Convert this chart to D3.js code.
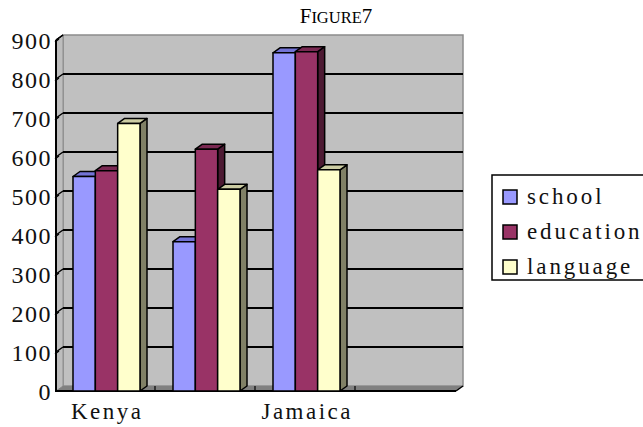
<!DOCTYPE html>
<html>
<head>
<meta charset="utf-8">
<script src="https://cdn.jsdelivr.net/npm/d3@7"></script>
<style>
  html, body { margin: 0; padding: 0; background: #fff; overflow: hidden; }
  svg { display: block; }
</style>
</head>
<body>
<svg id="chart" width="643" height="427"></svg>
<script>
// Category slots along the floor (only some slots carry a visible label)
const categoryLabels = ["Kenya", "", "Jamaica", ""];
// Series names, in drawing / legend order
const seriesNames = ["school", "education", "language"];
// Values per category slot (null = empty slot)
const school    = [550, 383, 867, null];
const education = [565, 620, 870, null];
const language  = [686, 517, 567, null];
// Value-axis ticks
const yTicks = [0, 100, 200, 300, 400, 500, 600, 700, 800, 900];

const seriesValues = [school, education, language];
const faceColors = [
  { front: "#9999FF", top: "#7373D6", side: "#4D4D80" },
  { front: "#993366", top: "#7A2952", side: "#4D1A33" },
  { front: "#FFFFCC", top: "#CCCCA3", side: "#808066" }
];

const svg = d3.select("#chart");

// 3D depth offset of the back wall relative to the front plane
const DX = 7, DY = -5;

const x = d3.scaleBand()
  .domain(d3.range(categoryLabels.length))
  .range([56, 456])
  .paddingInner(0).paddingOuter(0);

const xInner = d3.scaleBand()
  .domain(d3.range(seriesNames.length))
  .range([17, 84]);

const y = d3.scaleLinear().domain([0, 900]).range([391, 40]);

const [x0, x1] = x.range();
const yTop = y(900), yBot = y(0);

const SERIF = "'Liberation Serif', 'Times New Roman', serif";
const LABEL_SIZE = 23, LABEL_SPACING = 2.5;

// Back wall
svg.append("rect")
  .attr("x", x0 + DX).attr("y", yTop + DY)
  .attr("width", x1 - x0).attr("height", yBot - yTop)
  .attr("fill", "#C0C0C0")
  .attr("stroke", "#8C8C8C").attr("stroke-width", 1.5);

// Left side wall
svg.append("polygon")
  .attr("points", [[x0, yTop], [x0 + DX, yTop + DY], [x0 + DX, yBot + DY], [x0, yBot]].join(" "))
  .attr("fill", "#BDBDBD").attr("stroke", "#8C8C8C").attr("stroke-width", 1);

// Floor
svg.append("polygon")
  .attr("points", [[x0, yBot], [x0 + DX, yBot + DY], [x1 + DX, yBot + DY], [x1, yBot]].join(" "))
  .attr("fill", "#808080");

// Gridlines on back wall and their continuation across the side wall
const grid = svg.append("g");
yTicks.filter(v => v > 0 && v < 900).forEach(v => {
  grid.append("line")
    .attr("x1", x0 + DX).attr("x2", x1 + DX)
    .attr("y1", y(v) + DY).attr("y2", y(v) + DY)
    .attr("stroke", "#000").attr("stroke-width", 2);
});
yTicks.filter(v => v > 0).forEach(v => {
  grid.append("line")
    .attr("x1", x0).attr("y1", y(v))
    .attr("x2", x0 + DX).attr("y2", y(v) + DY)
    .attr("stroke", "#000").attr("stroke-width", 1.5);
  grid.append("line")
    .attr("x1", x0 - 1).attr("y1", y(v) + 2)
    .attr("x2", x0 + 3).attr("y2", y(v) - 1)
    .attr("stroke", "#000").attr("stroke-width", 1.2);
});

// Category ticks on the floor
d3.range(1, categoryLabels.length).forEach(i => {
  svg.append("line")
    .attr("x1", x(i) - 1).attr("x2", x(i) - 1)
    .attr("y1", yBot + DY).attr("y2", yBot - 1)
    .attr("stroke", "#000").attr("stroke-width", 1.2);
});

// Front axis lines
svg.append("line")
  .attr("x1", x0).attr("x2", x0).attr("y1", yTop).attr("y2", yBot)
  .attr("stroke", "#000").attr("stroke-width", 2);
svg.append("line")
  .attr("x1", x0 - 1).attr("x2", x1).attr("y1", yBot).attr("y2", yBot)
  .attr("stroke", "#000").attr("stroke-width", 2);
svg.append("line")
  .attr("x1", x1).attr("y1", yBot).attr("x2", x1 + DX).attr("y2", yBot + DY)
  .attr("stroke", "#000").attr("stroke-width", 1.5);
svg.append("line")
  .attr("x1", x0).attr("y1", yTop).attr("x2", x0 + DX).attr("y2", yTop + DY)
  .attr("stroke", "#000").attr("stroke-width", 1.5);

// 3D bars
const bars = svg.append("g");
categoryLabels.forEach((_, ci) => {
  seriesValues.forEach((vals, si) => {
    const v = vals[ci];
    if (v == null) return;
    const bx0 = x(ci) + xInner(si);
    const bx1 = bx0 + xInner.bandwidth();
    const by = y(v);
    const c = faceColors[si];
    const g = bars.append("g")
      .attr("stroke", "#000").attr("stroke-width", 1.5).attr("stroke-linejoin", "round");
    // side face
    g.append("polygon")
      .attr("points", [[bx1, by], [bx1 + DX, by + DY], [bx1 + DX, yBot + DY], [bx1, yBot]].join(" "))
      .attr("fill", c.side);
    // top face
    g.append("polygon")
      .attr("points", [[bx0, by], [bx0 + DX, by + DY], [bx1 + DX, by + DY], [bx1, by]].join(" "))
      .attr("fill", c.top);
    // front face
    g.append("rect")
      .attr("x", bx0).attr("y", by)
      .attr("width", bx1 - bx0).attr("height", yBot - by)
      .attr("fill", c.front);
  });
});

// Value-axis labels
svg.append("g")
  .selectAll("text")
  .data(yTicks)
  .join("text")
  .attr("x", 52)
  .attr("y", d => y(d) + 3)
  .attr("text-anchor", "end")
  .attr("dominant-baseline", "middle")
  .attr("font-family", SERIF)
  .attr("font-size", 24)
  .attr("letter-spacing", 1.5)
  .attr("fill", "#111")
  .text(d => d);

// Category labels
svg.append("g")
  .selectAll("text")
  .data(categoryLabels.map((label, i) => ({ label, i })).filter(d => d.label))
  .join("text")
  .attr("x", d => x(d.i) + x.bandwidth() / 2 + LABEL_SPACING / 2)
  .attr("y", 419)
  .attr("text-anchor", "middle")
  .attr("font-family", SERIF)
  .attr("font-size", LABEL_SIZE)
  .attr("letter-spacing", LABEL_SPACING)
  .attr("fill", "#111")
  .text(d => d.label);

// Title in small caps
const title = svg.append("text")
  .attr("x", 336).attr("y", 23)
  .attr("text-anchor", "middle")
  .attr("font-family", SERIF)
  .attr("fill", "#000");
title.append("tspan").attr("font-size", 21).text("F");
title.append("tspan").attr("font-size", 16.5).text("IGURE");
title.append("tspan").attr("font-size", 21).text("7");

// Legend
const legend = svg.append("g");
legend.append("rect")
  .attr("x", 492).attr("y", 175)
  .attr("width", 200).attr("height", 105)
  .attr("fill", "#fff").attr("stroke", "#000").attr("stroke-width", 1.5);
seriesNames.forEach((name, i) => {
  const ly = 190 + i * 35;
  legend.append("rect")
    .attr("x", 503).attr("y", ly)
    .attr("width", 14).attr("height", 14)
    .attr("fill", faceColors[i].front)
    .attr("stroke", "#000").attr("stroke-width", 1.5);
  legend.append("text")
    .attr("x", 527).attr("y", ly + 14)
    .attr("font-family", SERIF)
    .attr("font-size", LABEL_SIZE)
    .attr("letter-spacing", LABEL_SPACING + 0.4)
    .attr("fill", "#111")
    .text(name);
});
</script>
</body>
</html>
